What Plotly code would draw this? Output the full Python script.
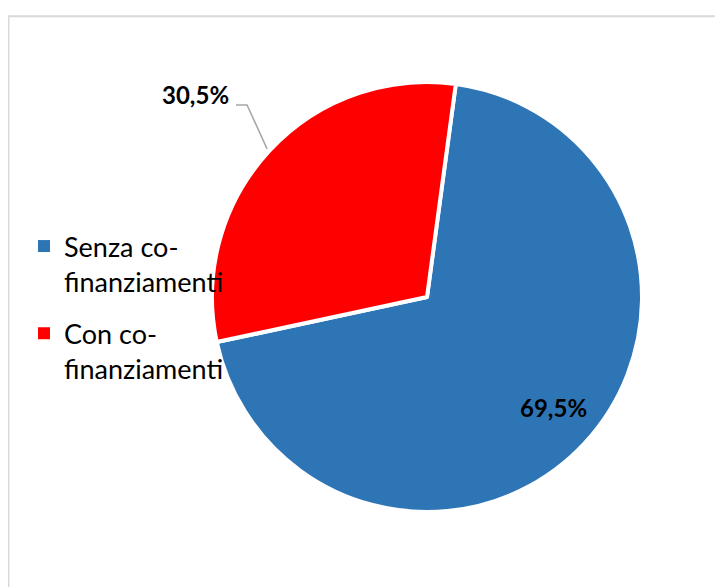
import math
import plotly.graph_objects as go

labels = ["Senza co-<br>finanziamenti", "Con co-<br>finanziamenti"]
values = [69.5, 30.5]
colors = ["#2E75B6", "#FF0000"]
rotation = 7.7

W, H = 723, 587
OFF = 8  # page body offset
cx, cy, R = 427 - OFF, 297 - OFF, 215  # pixel geometry of pie


def P(x, y):
    return x / W, 1 - y / H


fig = go.Figure()
fig.add_trace(go.Pie(
    labels=labels, values=values, sort=False, direction="clockwise",
    rotation=rotation,
    marker=dict(colors=colors, line=dict(color="white", width=4)),
    textinfo="none",
    domain=dict(x=[(cx - R) / W, (cx + R) / W], y=[1 - (cy + R) / H, 1 - (cy - R) / H]),
    showlegend=False,
    hoverinfo="label+percent",
))

# legend entries (one per category)
for lab, col in zip(labels, colors):
    fig.add_trace(go.Scatter(x=[None], y=[None], mode="markers", name=lab,
                             legendgroup=lab,
                             marker=dict(symbol="square", size=11, color=col)))

tot = sum(values)
fmt = lambda v: f"{v / tot * 100:.1f}%".replace(".", ",")
lab_font = dict(family="Lato", size=24, color="black", weight="bold")

# inside label for blue slice
mid0 = math.radians(rotation + 360 * values[0] / tot / 2)
bx = cx + 0.80 * R * math.sin(mid0)
by = cy - 0.80 * R * math.cos(mid0) - 6
x, y = P(bx, by)
fig.add_annotation(x=x, y=y, xref="paper", yref="paper", text=fmt(values[0]),
                   showarrow=False, xanchor="center", yanchor="middle", font=lab_font)

# outside label for the red slice, with leader line from slice midpoint
start = rotation + 360 * values[0] / tot
mid = math.radians(start + 360 * values[1] / tot / 2)
px = cx + (R + 3) * math.sin(mid)
py = cy - (R + 3) * math.cos(mid)
ex, ey = px - 20, py - 44
lx = ex - 11
p1, p2, p3 = P(px, py), P(ex, ey), P(lx, ey)
fig.add_shape(type="path",
              path=f"M {p1[0]} {p1[1]} L {p2[0]} {p2[1]} L {p3[0]} {p3[1]}",
              xref="paper", yref="paper", line=dict(color="#A6A6A6", width=1.5))
x, y = P(lx - 5, ey - 10)
fig.add_annotation(x=x, y=y, xref="paper", yref="paper", text=fmt(values[1]),
                   showarrow=False, xanchor="right", yanchor="middle", font=lab_font)

# chart frame
fig.add_shape(type="rect", x0=(7 - OFF) / W + 0.002, x1=1.05, y0=-0.05, y1=1 - (15 - OFF) / H - 0.002,
              xref="paper", yref="paper", line=dict(color="#D9D9D9", width=2))

lx0, ly0 = P(24 - OFF, 222 - OFF)
fig.update_layout(
    width=W, height=H, margin=dict(l=0, r=0, t=0, b=0),
    paper_bgcolor="white", plot_bgcolor="white",
    separators=",.",
    font=dict(family="Lato", size=27, color="black"),
    xaxis=dict(visible=False), yaxis=dict(visible=False),
    legend=dict(x=lx0, y=ly0, xanchor="left", yanchor="top", valign="top",
                font=dict(family="Lato", size=27, color="black"),
                itemsizing="constant", tracegroupgap=14,
                bgcolor="rgba(0,0,0,0)"),
)
fig.write_html("out.html")
